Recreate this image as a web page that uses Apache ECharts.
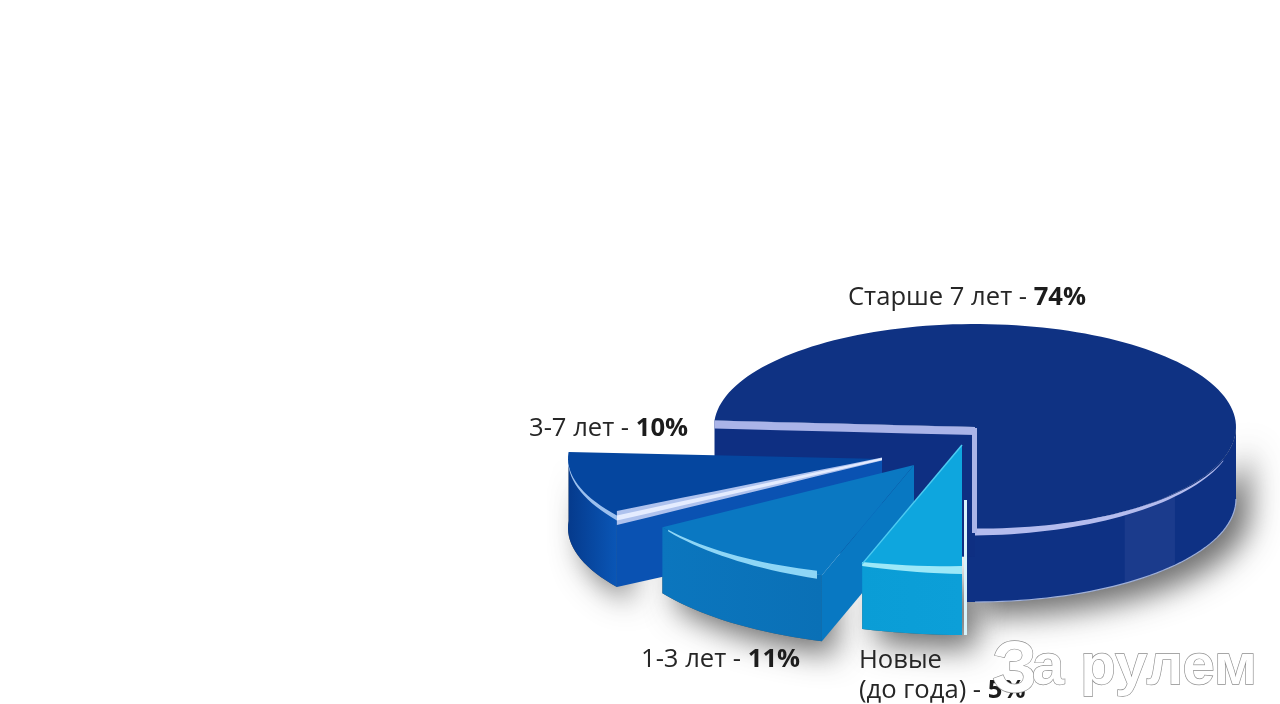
<!DOCTYPE html>
<html><head><meta charset="utf-8">
<style>html,body{margin:0;padding:0;background:#fff}#c{width:1280px;height:704px}</style>
<script src="https://cdn.jsdelivr.net/npm/echarts@6/dist/echarts.min.js"></script>
</head><body><div id="c"></div>
<script>
// Data: shares in percent, in clockwise order starting from the front of the pie
var categories = ['Новые\n(до года)', '1-3 лет', '3-7 лет', 'Старше 7 лет'];
var shares = [5, 11, 10, 74];

// Styling / layout of each exploded slice
var layout = [
  {cx:962,cy:445,rx:323,ry:125,h:65,top:'#0ea6de',wall:['#0c9fd8','#0a9dd6'],cut:'#0a9dd6',lx:859,ly:661},
  {cx:914,cy:465,rx:298,ry:116,h:66,top:'#0a78c2',wall:['#0a70b6','#0b76be'],cut:'#0878c2',lx:641,ly:660},
  {cx:882,cy:459,rx:314,ry:110,h:69,top:'#05469f',wall:['#0a56b6','#053a8c'],cut:'#0a52b2',lx:529,ly:429},
  {cx:975,cy:427,rx:261,ry:103,h:72,top:'#0f3283',wall:['#0e3184','#0e3184'],cut:'#0e2f82',cutDepth:130,lx:848,ly:298}
];
var FONT = '"Open Sans","Noto Sans",sans-serif';
var startAngles = [];
(function(){var a=90;shares.forEach(function(s){startAngles.push(a);a+=s*3.6;});startAngles.push(a);})();

function pt(L,a,dy){var t=a*Math.PI/180;return [L.cx+L.rx*Math.cos(t),L.cy+L.ry*Math.sin(t)+(dy||0)];}
function arc(L,a0,a1,dy){var n=Math.max(2,Math.ceil(Math.abs(a1-a0)/2)),r=[];for(var i=0;i<=n;i++)r.push(pt(L,a0+(a1-a0)*i/n,dy));return r;}
function poly(points,style){return {type:'polygon',shape:{points:points},style:style};}
function wallPts(L,a0,a1){return arc(L,a0,a1,0).concat(arc(L,a1,a0,L.h));}
function visible(a0,a1){return a1>360?[360,a1+2]:[a0,a1];}
// tapered strip along a polyline
function strip(points,w0,w1,offset){
  var up=[],dn=[],n=points.length-1;
  points.forEach(function(p,i){var w=w0+(w1-w0)*i/n;up.push([p[0],p[1]+(offset||0)-w/2]);dn.unshift([p[0],p[1]+(offset||0)+w/2]);});
  return up.concat(dn);
}
function line(p,q,n){var r=[];for(var i=0;i<=n;i++)r.push([p[0]+(q[0]-p[0])*i/n,p[1]+(q[1]-p[1])*i/n]);return r;}

function renderShadow(params,api){
  var i=api.value(0),L=layout[i],a0=startAngles[i],a1=startAngles[i+1],v=visible(a0,a1);
  return {type:'polygon',shape:{points:wallPts(L,v[0],v[1])},style:{fill:'#555',shadowBlur:30,shadowColor:'rgba(50,50,50,0.7)',shadowOffsetX:14,shadowOffsetY:14}};
}
function renderSlice(params,api){
  var i=api.value(0),L=layout[i],a0=startAngles[i],a1=startAngles[i+1],v=visible(a0,a1);
  var apex=[L.cx,L.cy],c0=pt(L,a0),c1=pt(L,a1),d=L.cutDepth||L.h,ch=[];
  // walls
  ch.push(poly(wallPts(L,v[0],v[1]),{fill:{type:'linear',x:1,y:0,x2:0,y2:0,colorStops:[{offset:0,color:L.wall[0]},{offset:1,color:L.wall[1]}]}}));
  ch.push(poly([apex,c0,[c0[0],c0[1]+d],[apex[0],apex[1]+d]],{fill:L.cut}));
  // top
  ch.push(poly([apex].concat(arc(L,a0,a1)),{fill:L.top}));
  // highlights
  if(i===3){
    ch.push(poly(wallPts(L,400,415),{fill:'rgba(150,150,220,0.1)'}));
    ch.push(poly(strip(line(c0,apex,4),8,8,4),{fill:'#aab4e8'}));
    ch.push(poly(strip(arc(L,450,378),7,1,2),{fill:'#b4bcee'}));
    ch.push({type:'rect',shape:{x:L.cx-3,y:L.cy+1,width:5,height:L.ry+2},style:{fill:'#aab4e8'}});
    ch.push({type:'polyline',shape:{points:arc(L,360,450,L.h)},style:{fill:null,stroke:'#9fb0da',lineWidth:1.2}});
  } else if(i===2){
    ch.push(poly(strip(arc(L,a1,a0),1.5,5,0),{fill:'#9cc0ee'}));
    ch.push(poly(strip(line(c0,apex,8),14,3,0),{fill:'#aec2ee'}));
    ch.push(poly(strip(line(c0,apex,8),5,2,0),{fill:'#e4ecff'}));
  } else if(i===1){
    ch.push(poly(strip(arc(L,a1-2,a0+1),1.5,8,0),{fill:'#8ed6f6'}));
  } else {
    ch.push(poly(strip(arc(L,a1,a0),4,8,0),{fill:'#9ce8f8'}));
    ch.push({type:'polyline',shape:{points:[apex,c1]},style:{fill:null,stroke:'#4ccbf2',lineWidth:1.5}});
    ch.push({type:'rect',shape:{x:L.cx+2,y:L.cy+55,width:3,height:L.ry+L.h-55},style:{fill:'#d8f3fb'}});
  }
  return {type:'group',children:ch};
}
function renderLabel(params,api){
  var i=api.value(0),L=layout[i],lines=categories[i].split('\n'),out=[];
  var lh=30;
  lines.forEach(function(t,k){
    var last=k===lines.length-1;
    out.push({type:'text',x:L.lx,y:L.ly+k*lh,style:{
      text:last?'{a|'+t+' - }{b|'+shares[i]+'%}':'{a|'+t+'}',
      verticalAlign:'middle',align:'left',
      rich:{a:{fontFamily:FONT,fontSize:25.6,fill:'#262626',color:'#262626'},b:{fontFamily:FONT,fontSize:25.6,fontWeight:'bold',fill:'#1c1c1c',color:'#1c1c1c'}}
    }});
  });
  return {type:'group',children:out};
}
var order=[3,2,1,0].map(function(i){return [i];});
var chart=echarts.init(document.getElementById('c'),null,{renderer:'canvas'});
chart.setOption({
  animation:false,
  backgroundColor:'#fff',
  series:[
    {type:'custom',coordinateSystem:'none',silent:true,data:order,renderItem:renderShadow,z:1},
    {type:'custom',coordinateSystem:'none',silent:true,data:order,renderItem:renderSlice,z:2},
    {type:'custom',coordinateSystem:'none',silent:true,data:order,renderItem:renderLabel,z:3}
  ],
  graphic:[
    {type:'text',z:100,x:992,y:672,scaleX:1.0,style:{text:'З',fontFamily:'"Liberation Sans"',fontWeight:'bold',fontSize:72,fill:'#fff',stroke:'#8e8e8e',lineWidth:1.3,verticalAlign:'middle'}},
    {type:'text',z:100,x:1032,y:668,scaleX:1.0,style:{text:'а рулем',fontFamily:'"Liberation Sans"',fontWeight:'bold',fontSize:58,fill:'#fff',stroke:'#8e8e8e',lineWidth:1.3,verticalAlign:'middle'}}
  ]
});
</script></body></html>
